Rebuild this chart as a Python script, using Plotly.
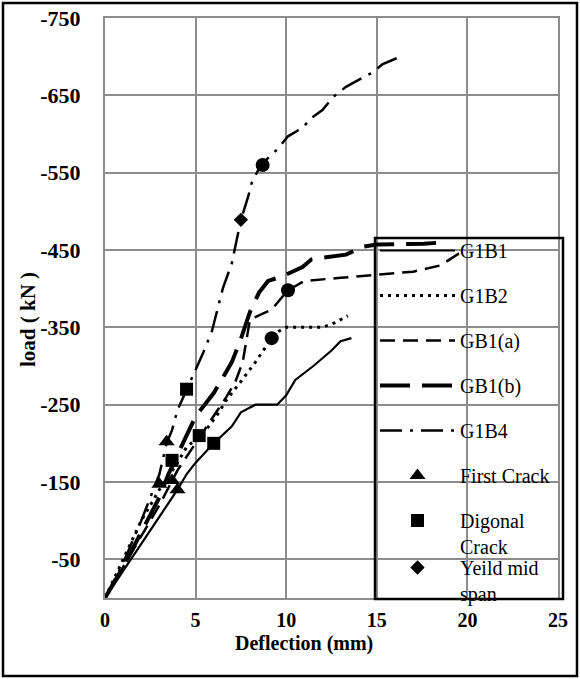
import plotly.graph_objects as go

# ---------------- data ----------------
g1b1_x = [0, 1, 2, 3, 4, 4.5, 5, 6, 7, 7.5, 8.3, 9.5, 10.0, 10.5, 11.5, 12.5, 13.0, 13.6]
g1b1_y = [0, -35, -70, -105, -140, -160, -175, -200, -222, -240, -250, -250, -262, -282, -300, -320, -332, -336]

g1b2_x = [0, 1, 2, 3, 4, 4.5, 5.5, 6.2, 6.7, 7.5, 8.3, 9.2, 9.6, 10.0, 12.0, 12.7, 13.4]
g1b2_y = [0, -50, -100, -140, -175, -195, -215, -237, -256, -280, -305, -336, -345, -350, -350, -356, -365]

gb1a_x = [0, 1, 2, 3, 4, 5, 6, 6.7, 7.2, 7.6, 8.0, 9.2, 10.1, 11.0, 13.0, 15.0, 17.0, 18.5, 19.5, 20.0]
gb1a_y = [0, -40, -80, -120, -165, -200, -235, -260, -280, -305, -360, -373, -398, -410, -414, -418, -422, -430, -445, -448]

gb1b_x = [0, 1, 2, 3, 3.5, 4, 4.5, 5, 5.5, 6, 6.5, 7, 7.5, 8, 8.5, 9, 9.8, 10.9, 11.4, 12.2, 13.3, 14.2, 15.0, 17.6, 18.7]
gb1b_y = [0, -40, -85, -130, -160, -185, -210, -235, -250, -265, -285, -305, -335, -370, -395, -410, -416, -428, -438, -440, -444, -454, -457, -458, -460]

g1b4_x = [0, 1, 2, 3, 3.4, 3.7, 4.0, 4.5, 5.0, 5.4, 5.9, 6.2, 6.5, 7.0, 7.3, 7.5, 7.9, 8.1, 8.6,
          9.5, 10.1, 10.9, 11.4, 12.0, 12.6, 13.3, 14.0, 14.8, 15.3, 16.2, 16.5]
g1b4_y = [0, -45, -100, -160, -200, -217, -243, -269, -297, -316, -345, -373, -400, -433, -467, -489, -519, -537, -560,
          -580, -597, -608, -621, -631, -648, -661, -670, -680, -690, -699, -702]

first_crack_x = [3.4, 3.0, 3.7, 4.0]
first_crack_y = [-202, -147, -152, -140]

diag_crack_x = [3.7, 4.5, 5.2, 6.0]
diag_crack_y = [-178, -270, -210, -200]

yield_x = [7.5]
yield_y = [-489]

ultimate_x = [8.7, 10.1, 9.2]
ultimate_y = [-560, -398, -336]

x_ticks = [0, 5, 10, 15, 20, 25]
y_ticks = [-50, -150, -250, -350, -450, -550, -650, -750]
y_tick_labels = ["-50", "-150", "-250", "-350", "-450", "-550", "-650", "-750"]

FONT = "Liberation Serif"

fig = go.Figure()

fig.add_trace(go.Scatter(x=g1b1_x, y=g1b1_y, mode="lines", name="G1B1", legendgroup="a",
                         line=dict(color="black", width=2.2), legend="legend"))
fig.add_trace(go.Scatter(x=g1b2_x, y=g1b2_y, mode="lines", name="G1B2", legendgroup="b",
                         line=dict(color="black", width=3, dash="3px,5px"), legend="legend"))
fig.add_trace(go.Scatter(x=gb1a_x, y=gb1a_y, mode="lines", name="GB1(a)", legendgroup="c",
                         line=dict(color="black", width=2.5, dash="15px,8px"), legend="legend"))
fig.add_trace(go.Scatter(x=gb1b_x, y=gb1b_y, mode="lines", name="GB1(b)", legendgroup="d",
                         line=dict(color="black", width=4, dash="30px,12px"), legend="legend"))
fig.add_trace(go.Scatter(x=g1b4_x, y=g1b4_y, mode="lines", name="G1B4", legendgroup="e",
                         line=dict(color="black", width=2.5, dash="22px,8px,3px,8px"), legend="legend"))
fig.add_trace(go.Scatter(x=first_crack_x, y=first_crack_y, mode="markers", name="First Crack", legendgroup="f",
                         marker=dict(symbol="triangle-up", size=14, color="black"), legend="legend"))
fig.add_trace(go.Scatter(x=diag_crack_x, y=diag_crack_y, mode="markers", name="Digonal<br>Crack",
                         marker=dict(symbol="square", size=13, color="black"), legend="legend2"))
fig.add_trace(go.Scatter(x=yield_x, y=yield_y, mode="markers", name="Yeild mid<br>span",
                         marker=dict(symbol="diamond", size=11, color="black"), legend="legend3"))
fig.add_trace(go.Scatter(x=ultimate_x, y=ultimate_y, mode="markers", showlegend=False,
                         marker=dict(symbol="circle", size=14, color="black")))

L, R, T, B = 105, 22, 18, 81
W, H = 580, 679
pw, ph = W - L - R, H - T - B


def px_x(p):
    return (p - L) / pw


def px_y(p):
    return (H - B - p) / ph


legend_common = dict(
    font=dict(family=FONT, size=20, color="black"),
    bgcolor="rgba(0,0,0,0)", borderwidth=0,
    itemwidth=75, valign="top",
    xanchor="left", yanchor="top", x=px_x(375),
)

fig.update_layout(
    width=W, height=H,
    margin=dict(l=L, r=R, t=T, b=B, autoexpand=False),
    paper_bgcolor="white", plot_bgcolor="white",
    font=dict(family=FONT, color="black"),
    legend=dict(**legend_common, y=px_y(231), traceorder="grouped", tracegroupgap=16),
    legend2=dict(**legend_common, y=px_y(501)),
    legend3=dict(**legend_common, y=px_y(548)),
    xaxis=dict(range=[0, 25], tickvals=x_ticks, showgrid=True, gridcolor="#8c8c8c", gridwidth=2,
               showline=True, linecolor="#8c8c8c", linewidth=2, mirror=True, zeroline=False,
               tickfont=dict(family=FONT, size=20, weight="bold", color="black"),
               ticklabelstandoff=3),
    yaxis=dict(range=[0, -750], tickvals=y_ticks, ticktext=y_tick_labels, showgrid=True,
               gridcolor="#8c8c8c", gridwidth=2,
               showline=True, linecolor="#8c8c8c", linewidth=2, mirror=True, zeroline=False,
               tickfont=dict(family=FONT, size=22, weight="bold", color="black"),
               ticklabelstandoff=18),
    showlegend=True,
    shapes=[
        dict(type="rect", xref="paper", yref="paper", x0=px_x(375), x1=px_x(563),
             y0=px_y(599), y1=px_y(238), line=dict(color="black", width=2.5)),
        dict(type="rect", xref="paper", yref="paper", x0=px_x(3), x1=px_x(577),
             y0=px_y(676), y1=px_y(3), line=dict(color="black", width=2.5)),
    ],
    annotations=[
        dict(text="<b>Deflection (mm)</b>", xref="paper", yref="paper", x=px_x(304), y=px_y(643),
             xanchor="center", yanchor="middle", showarrow=False,
             font=dict(family=FONT, size=20, color="black")),
        dict(text="<b>load ( kN )</b>", xref="paper", yref="paper", x=px_x(28), y=px_y(320),
             xanchor="center", yanchor="middle", showarrow=False, textangle=-90,
             font=dict(family=FONT, size=21, color="black")),
    ],
)

fig.write_html("out.html", config={"displayModeBar": False},
               post_script="document.body.style.margin='0';document.body.style.padding='0';"
                           "document.body.style.overflow='hidden';")
